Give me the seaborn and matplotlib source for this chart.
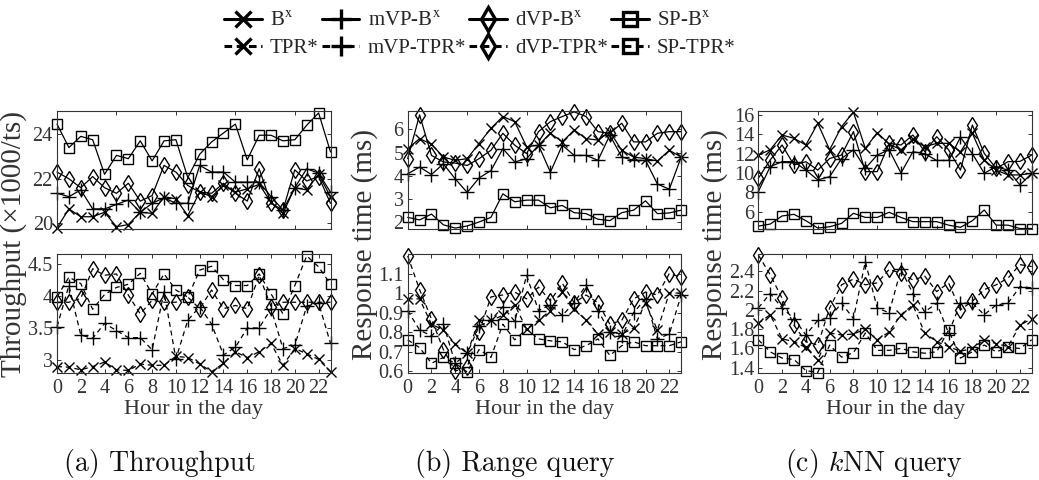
import matplotlib
matplotlib.use("Agg")
import matplotlib.pyplot as plt
import seaborn as sns
from matplotlib.lines import Line2D
from matplotlib.ticker import FuncFormatter
from matplotlib.font_manager import FontProperties

# -----------------------------
# 1. Data
# -----------------------------
hours = list(range(24))

# (a) Throughput (x1000/ts)
tp_bx = [19.8, 20.65, 20.3, 20.3, 20.5, 19.85, 19.95, 20.5, 20.45, 21.2, 21.1, 20.35,
         21.4, 21.2, 21.7, 21.4, 21.55, 21.75, 20.95, 20.45, 21.6, 21.5, 22.2, 21.2]
tp_mvp_bx = [21.35, 21.2, 21.5, 20.65, 20.65, 20.85, 21.05, 20.5, 20.9, 21.15, 20.9, 20.9,
             22.6, 22.3, 22.3, 21.85, 21.85, 21.85, 21.2, 20.6, 21.6, 22.45, 22.25, 21.4]
tp_dvp_bx = [22.3, 22.0, 21.6, 22.1, 21.6, 21.35, 21.8, 21.0, 21.25, 22.6, 22.3, 21.7,
             21.4, 21.35, 21.8, 21.35, 21.0, 22.45, 20.9, 20.6, 22.4, 21.9, 22.1, 20.9]
tp_sp_bx = [24.45, 23.4, 23.9, 23.75, 22.2, 23.05, 22.9, 23.7, 22.8, 23.7, 23.75, 22.05,
            23.1, 23.65, 24.05, 24.45, 22.85, 23.95, 23.95, 23.7, 23.75, 24.4, 24.95, 23.2]
tp_tpr = [2.9, 2.89, 2.85, 2.9, 2.97, 2.85, 2.84, 2.94, 2.92, 2.92, 3.06, 3.04,
          2.94, 2.82, 2.95, 3.13, 3.04, 3.13, 3.26, 2.92, 3.18, 3.1, 3.01, 2.82]
tp_mvp_tpr = [3.52, 4.16, 3.39, 3.34, 3.57, 3.46, 3.35, 3.35, 3.16, 4.06, 3.02, 3.62,
              3.83, 3.56, 3.08, 3.2, 3.5, 3.5, 3.8, 3.18, 3.23, 3.84, 3.89, 3.26]
tp_dvp_tpr = [3.9, 3.9, 3.96, 4.42, 4.32, 4.34, 4.01, 3.72, 3.93, 3.9, 3.9, 3.98,
              3.8, 4.09, 3.8, 3.85, 3.8, 4.32, 3.83, 3.9, 3.9, 3.9, 3.9, 3.9]
tp_sp_tpr = [3.98, 4.29, 4.19, 3.79, 4.02, 4.13, 4.18, 4.35, 4.03, 4.34, 4.09, 3.98,
             4.4, 4.46, 4.25, 4.16, 4.16, 4.34, 4.03, 3.72, 4.16, 4.62, 4.45, 4.18]

# (b) Range query response time (ms)
rq_bx = [5.17, 5.6, 5.36, 4.81, 4.67, 4.74, 5.39, 6.04, 6.55, 6.33, 5.25, 5.32,
         5.83, 5.46, 5.97, 5.6, 5.54, 5.9, 5.1, 4.81, 4.74, 4.64, 5.1, 4.81]
rq_mvp_bx = [4.09, 4.38, 4.06, 4.52, 3.87, 3.29, 3.91, 4.23, 5.17, 4.6, 4.74, 5.32,
             4.16, 5.32, 4.88, 4.88, 4.67, 5.75, 4.81, 4.67, 4.67, 3.65, 3.43, 4.81]
rq_dvp_bx = [4.74, 6.62, 4.88, 4.6, 4.55, 4.45, 4.74, 5.1, 5.83, 5.32, 4.96, 5.9,
             6.33, 6.55, 6.75, 6.55, 5.9, 5.83, 6.26, 5.46, 5.46, 5.83, 5.9, 5.9]
rq_sp_bx = [2.22, 2.11, 2.36, 1.9, 1.76, 1.85, 2.02, 2.22, 3.23, 2.89, 2.96, 2.96,
            2.63, 2.73, 2.42, 2.38, 2.14, 2.08, 2.42, 2.53, 2.93, 2.38, 2.41, 2.53]
rq_tpr = [0.97, 0.97, 0.84, 0.81, 0.74, 0.69, 0.86, 0.86, 0.885, 0.94, 0.815, 0.86,
          0.91, 1.005, 0.92, 0.86, 0.79, 0.8, 0.79, 0.82, 0.95, 0.81, 1.0, 1.0]
rq_mvp_tpr = [0.91, 0.81, 0.78, 0.84, 0.64, 0.69, 0.83, 0.86, 0.93, 0.855, 1.09, 0.91,
              0.94, 0.885, 0.95, 1.04, 0.91, 0.8, 0.78, 0.9, 0.97, 0.765, 0.79, 0.99]
rq_dvp_tpr = [1.19, 1.017, 0.867, 0.71, 0.6, 0.62, 0.8, 0.98, 0.99, 1.005, 0.97, 1.03,
              0.96, 1.05, 0.95, 0.99, 0.95, 0.84, 0.86, 0.97, 1.005, 0.99, 1.1, 1.08]
rq_sp_tpr = [0.76, 0.72, 0.64, 0.67, 0.64, 0.595, 0.71, 0.67, 0.84, 0.76, 0.815, 0.765,
             0.755, 0.75, 0.71, 0.73, 0.765, 0.68, 0.73, 0.75, 0.73, 0.73, 0.73, 0.75]

# (c) kNN query response time (ms)
knn_bx = [11.86, 12.4, 13.93, 13.59, 12.9, 15.14, 12.4, 14.8, 16.3, 12.55, 14.17, 13.0,
          12.4, 13.48, 12.72, 13.07, 13.07, 12.2, 14.1, 11.35, 10.3, 9.8, 9.8, 9.97]
knn_mvp_bx = [8.07, 10.66, 11.17, 11.17, 10.3, 9.28, 9.62, 11.5, 12.4, 10.48, 11.86, 12.4,
              10.0, 12.2, 12.0, 11.3, 11.3, 13.7, 12.0, 9.97, 10.66, 10.3, 8.76, 9.97]
knn_dvp_bx = [9.45, 11.35, 12.9, 10.83, 11.17, 10.3, 11.5, 11.86, 14.28, 10.14, 10.14, 13.07,
              12.9, 13.93, 12.2, 13.76, 12.4, 10.3, 14.97, 12.03, 10.48, 11.17, 11.2, 11.86]
knn_sp_bx = [4.5, 4.71, 5.55, 5.72, 5.06, 4.3, 4.43, 4.78, 5.83, 5.4, 5.4, 5.93,
             5.4, 4.96, 4.96, 4.96, 4.6, 4.37, 5.06, 6.17, 4.6, 4.6, 4.25, 4.25]
knn_tpr = [1.86, 1.95, 1.7, 1.67, 1.61, 1.48, 1.76, 1.74, 1.75, 1.8, 1.69, 1.77,
           1.95, 2.05, 1.76, 1.67, 1.62, 1.57, 1.6, 1.69, 1.65, 1.62, 1.84, 1.91]
knn_mvp_tpr = [2.02, 2.17, 2.02, 1.91, 1.74, 1.89, 1.92, 2.07, 1.91, 2.5, 2.02, 1.97,
               2.42, 2.17, 1.98, 2.07, 1.76, 2.07, 2.07, 1.95, 2.05, 2.07, 2.24, 2.23]
knn_dvp_tpr = [2.57, 2.365, 2.12, 1.84, 1.67, 1.635, 2.02, 2.26, 2.32, 2.26, 2.28, 2.42,
               2.38, 2.31, 2.35, 2.19, 2.28, 2.0, 2.09, 2.21, 2.26, 2.33, 2.47, 2.45]
knn_sp_tpr = [1.69, 1.565, 1.5, 1.485, 1.37, 1.35, 1.635, 1.51, 1.555, 1.76, 1.58, 1.58,
              1.6, 1.565, 1.55, 1.565, 1.79, 1.5, 1.565, 1.635, 1.565, 1.61, 1.6, 1.69]

labels_bx = ["B$^{\\rm x}$", "mVP-B$^{\\rm x}$", "dVP-B$^{\\rm x}$", "SP-B$^{\\rm x}$"]
labels_tpr = ["TPR*", "mVP-TPR*", "dVP-TPR*", "SP-TPR*"]
captions = ["(a) Throughput", "(b) Range query", "(c) $k$NN query"]
ylabels = ["Throughput (\u00d71000/ts)", "Response time (ms)", "Response time (ms)"]

# -----------------------------
# 2. Style
# -----------------------------
sns.set_style("ticks")
plt.rcParams['font.family'] = ['Liberation Serif', 'DejaVu Serif']
plt.rcParams['mathtext.fontset'] = 'stix'

GREY = '#333333'
markers = ['x', '+', 'd', 's']
msizes = [7.5, 10, 8.5, 6.5]
W, H = 1039, 480

fig = plt.figure(figsize=(W / 100, H / 100), dpi=100)


def px_axes(x0, y0, x1, y1):
    return fig.add_axes([x0 / W, 1 - y1 / H, (x1 - x0) / W, (y1 - y0) / H])


panels = [
    dict(top=[tp_bx, tp_mvp_bx, tp_dvp_bx, tp_sp_bx], bot=[tp_tpr, tp_mvp_tpr, tp_dvp_tpr, tp_sp_tpr],
         ylim_top=(19.75, 25.05), yt_top=[20, 22, 24],
         ylim_bot=(2.8, 4.65), yt_bot=[3, 3.5, 4, 4.5]),
    dict(top=[rq_bx, rq_mvp_bx, rq_dvp_bx, rq_sp_bx], bot=[rq_tpr, rq_mvp_tpr, rq_dvp_tpr, rq_sp_tpr],
         ylim_top=(1.72, 6.8), yt_top=[2, 3, 4, 5, 6],
         ylim_bot=(0.59, 1.2), yt_bot=[0.6, 0.7, 0.8, 0.9, 1.0, 1.1]),
    dict(top=[knn_bx, knn_mvp_bx, knn_dvp_bx, knn_sp_bx], bot=[knn_tpr, knn_mvp_tpr, knn_dvp_tpr, knn_sp_tpr],
         ylim_top=(4.2, 16.45), yt_top=[6, 8, 10, 12, 14, 16],
         ylim_bot=(1.345, 2.58), yt_bot=[1.4, 1.6, 1.8, 2.0, 2.2, 2.4]),
]

lefts = [57, 407.7, 758.3]
axw = 273.5
ylab_x = [14, 365, 715]
cap_x = [160, 515, 874]
fmt = FuncFormatter(lambda v, p: f"{v:g}")

# -----------------------------
# 3. Draw panels
# -----------------------------
for i, p in enumerate(panels):
    x0 = lefts[i]
    ax_t = px_axes(x0, 110.7, x0 + axw, 229)
    ax_b = px_axes(x0, 254, x0 + axw, 373)

    for ax, series, ls in [(ax_t, p['top'], '-'), (ax_b, p['bot'], (0, (4, 3)))]:
        for vals, mk, ms in zip(series, markers, msizes):
            sns.lineplot(x=hours, y=vals, ax=ax, color='k', lw=0.9, linestyle=ls,
                         marker=mk, markersize=ms, mfc='none', mec='k', mew=1.0,
                         errorbar=None, clip_on=False)
        ax.set_xlim(0, 23)
        ax.set_xlabel("")
        ax.set_ylabel("")
        ax.yaxis.set_major_formatter(fmt)
        ax.tick_params(direction='in', top=True, right=True, length=3, width=0.7,
                       labelsize=14.5, colors=GREY, pad=3)
        ax.tick_params(axis='x', pad=4)
        for sp in ax.spines.values():
            sp.set_visible(True)
            sp.set_color(GREY)
            sp.set_linewidth(0.8)

    ax_t.set_ylim(*p['ylim_top'])
    ax_t.set_yticks(p['yt_top'])
    ax_t.set_xticks([0, 5, 10, 15, 20])
    ax_t.tick_params(labelbottom=False)

    ax_b.set_ylim(*p['ylim_bot'])
    ax_b.set_yticks(p['yt_bot'])
    ax_b.set_xticks(list(range(0, 24, 2)))
    ax_b.set_xlabel("Hour in the day", fontsize=16, color=GREY, labelpad=2)

    fig.text(ylab_x[i] / W, 1 - 244 / H, ylabels[i], rotation=90, ha='center', va='center',
             fontsize=21, color=GREY)
    fig.text(cap_x[i] / W, 1 - 464 / H, captions[i], ha='center', va='center',
             fontfamily='cmr10', math_fontfamily='cm', fontsize=20, color='#111111')

# -----------------------------
# 4. Legend (2 rows x 4 columns)
# -----------------------------
handles, labels = [], []
for lb, lt, mk, ms in zip(labels_bx, labels_tpr, markers, msizes):
    handles.append(Line2D([], [], color='k', lw=2.2, ls='-', marker=mk, markersize=ms + 4,
                          mfc='none', mec='k', mew=2.4))
    labels.append(lb)
    handles.append(Line2D([], [], color='k', lw=2.2, ls=(0, (2.5, 1.5)), marker=mk, markersize=ms + 4,
                          mfc='none', mec='k', mew=2.4))
    labels.append(lt)

fig.legend(handles, labels, ncol=4, loc='upper center', bbox_to_anchor=(0.462, 1.015),
           frameon=False, handlelength=1.8, columnspacing=0.15, handletextpad=0.4,
           labelspacing=0.35, prop=FontProperties(family='Liberation Serif', size=15,
                                                  math_fontfamily='stix'))

fig.savefig("out.png", dpi=100)
